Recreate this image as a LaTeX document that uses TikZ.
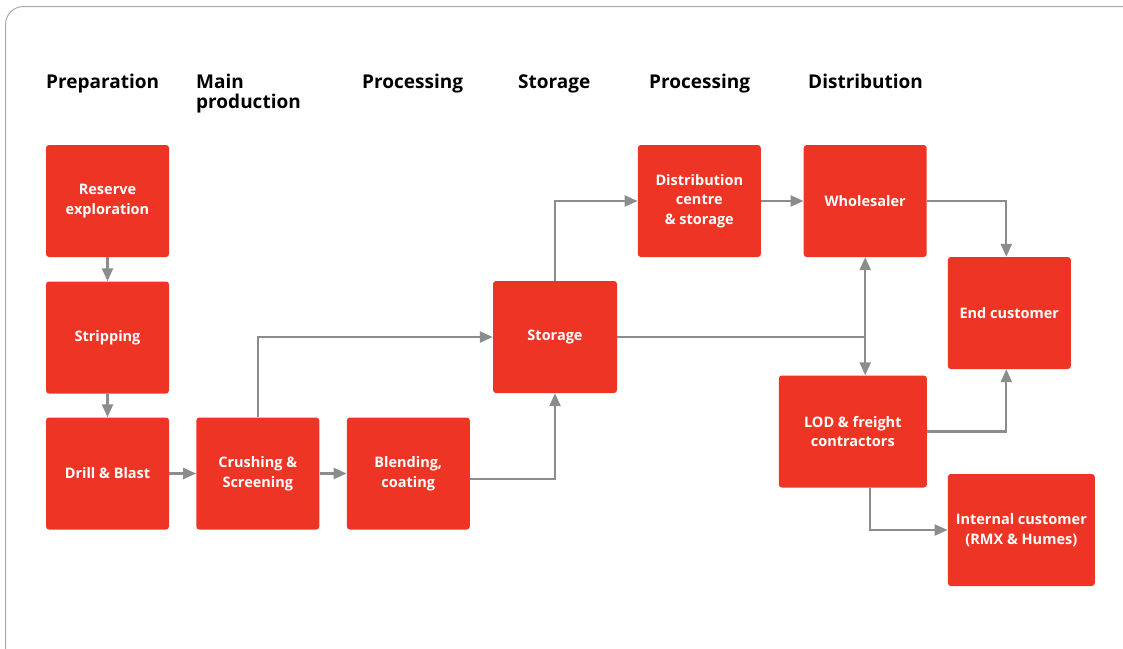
\documentclass[tikz,border=0pt]{standalone}
\usepackage{fontspec}
\setmainfont{Open Sans}
\usepackage{xcolor}
\usetikzlibrary{arrows.meta, calc}

\definecolor{boxred}{HTML}{EE3424}
\definecolor{linegray}{HTML}{8A8C8E}
\definecolor{framegray}{HTML}{A7A9AC}

\tikzset{
    blk/.style={fill=boxred, rounded corners=3pt, text=white, align=center,
        minimum width=123pt, minimum height=112pt, inner sep=0pt,
        font=\bfseries\fontsize{14.5}{19.5}\selectfont},
    hdr/.style={anchor=base west, inner sep=0pt, align=left,
        font=\bfseries\fontsize{19}{20}\selectfont},
    arr/.style={draw=linegray, line width=2.3pt,
        -{Triangle[length=13pt, width=11pt]}},
    ln/.style={draw=linegray, line width=2.3pt}
}

\begin{document}
\begin{tikzpicture}[x=1pt, y=-1pt]
    \useasboundingbox (0,0) rectangle (1123,648);
    \clip (0,0) rectangle (1123,648);
    \draw[framegray, line width=1pt, rounded corners=18pt] (5.5,6.5) rectangle (1160,690);

    % stage headings
    \node[hdr] (hprep) at (46,88) {Preparation};
    \node[hdr] (hmain) at (196,108) {Main\\production};
    \node[hdr] (hproc) at (362,88) {Processing};
    \node[hdr] (hstor) at (518,88) {Storage};
    \node[hdr] (hproc2) at (649,88) {Processing};
    \node[hdr] (hdist) at (808,88) {Distribution};

    % boxes
    \node[blk] (reserve) at (107.5,201) {Reserve\\exploration};
    \node[blk] (strip) at (107.5,337.5) {Stripping};
    \node[blk] (drill) at (107.5,473.5) {Drill \& Blast};
    \node[blk] (crush) at (257.8,473.5) {Crushing \&\\Screening};
    \node[blk] (blend) at (408.3,473.5) {Blending,\\coating};
    \node[blk, minimum width=124pt] (storage) at (555,337) {Storage};
    \node[blk] (distr) at (699.3,201) {Distribution\\centre\\\& storage};
    \node[blk] (whole) at (865.2,201) {Wholesaler};
    \node[blk] (endc) at (1009.3,313) {End customer};
    \node[blk, minimum width=148pt] (lod) at (852.8,431.5) {LOD \& freight\\contractors};
    \node[blk, minimum width=147pt] (intc) at (1021.3,530) {Internal customer\\(RMX \& Humes)};

    % connectors
    \draw[arr] (reserve) -- (strip);
    \draw[arr] (strip) -- (drill);
    \draw[arr] (drill) -- (crush);
    \draw[arr] (crush) -- (blend);
    \draw[arr] (crush.north) |- (storage.west);
    \draw[arr] ($(blend.east)+(0,5.5)$) -| (storage.south);
    \draw[arr] (storage.north) |- (distr.west);
    \draw[arr] (distr) -- (whole);
    \draw[arr] (whole.east) -| ($(endc.north)+(-3,0)$);
    \coordinate (jn) at (whole.south |- storage.east);
    \draw[ln] (storage.east) -- (jn);
    \draw[arr] (jn) -- (whole.south);
    \draw[arr] (jn) -- (jn |- lod.north);
    \draw[arr] (lod.east) -| ($(endc.south)+(-3,0)$);
    \draw[arr] ($(lod.south)+(17,0)$) |- (intc.west);
\end{tikzpicture}
\end{document}
